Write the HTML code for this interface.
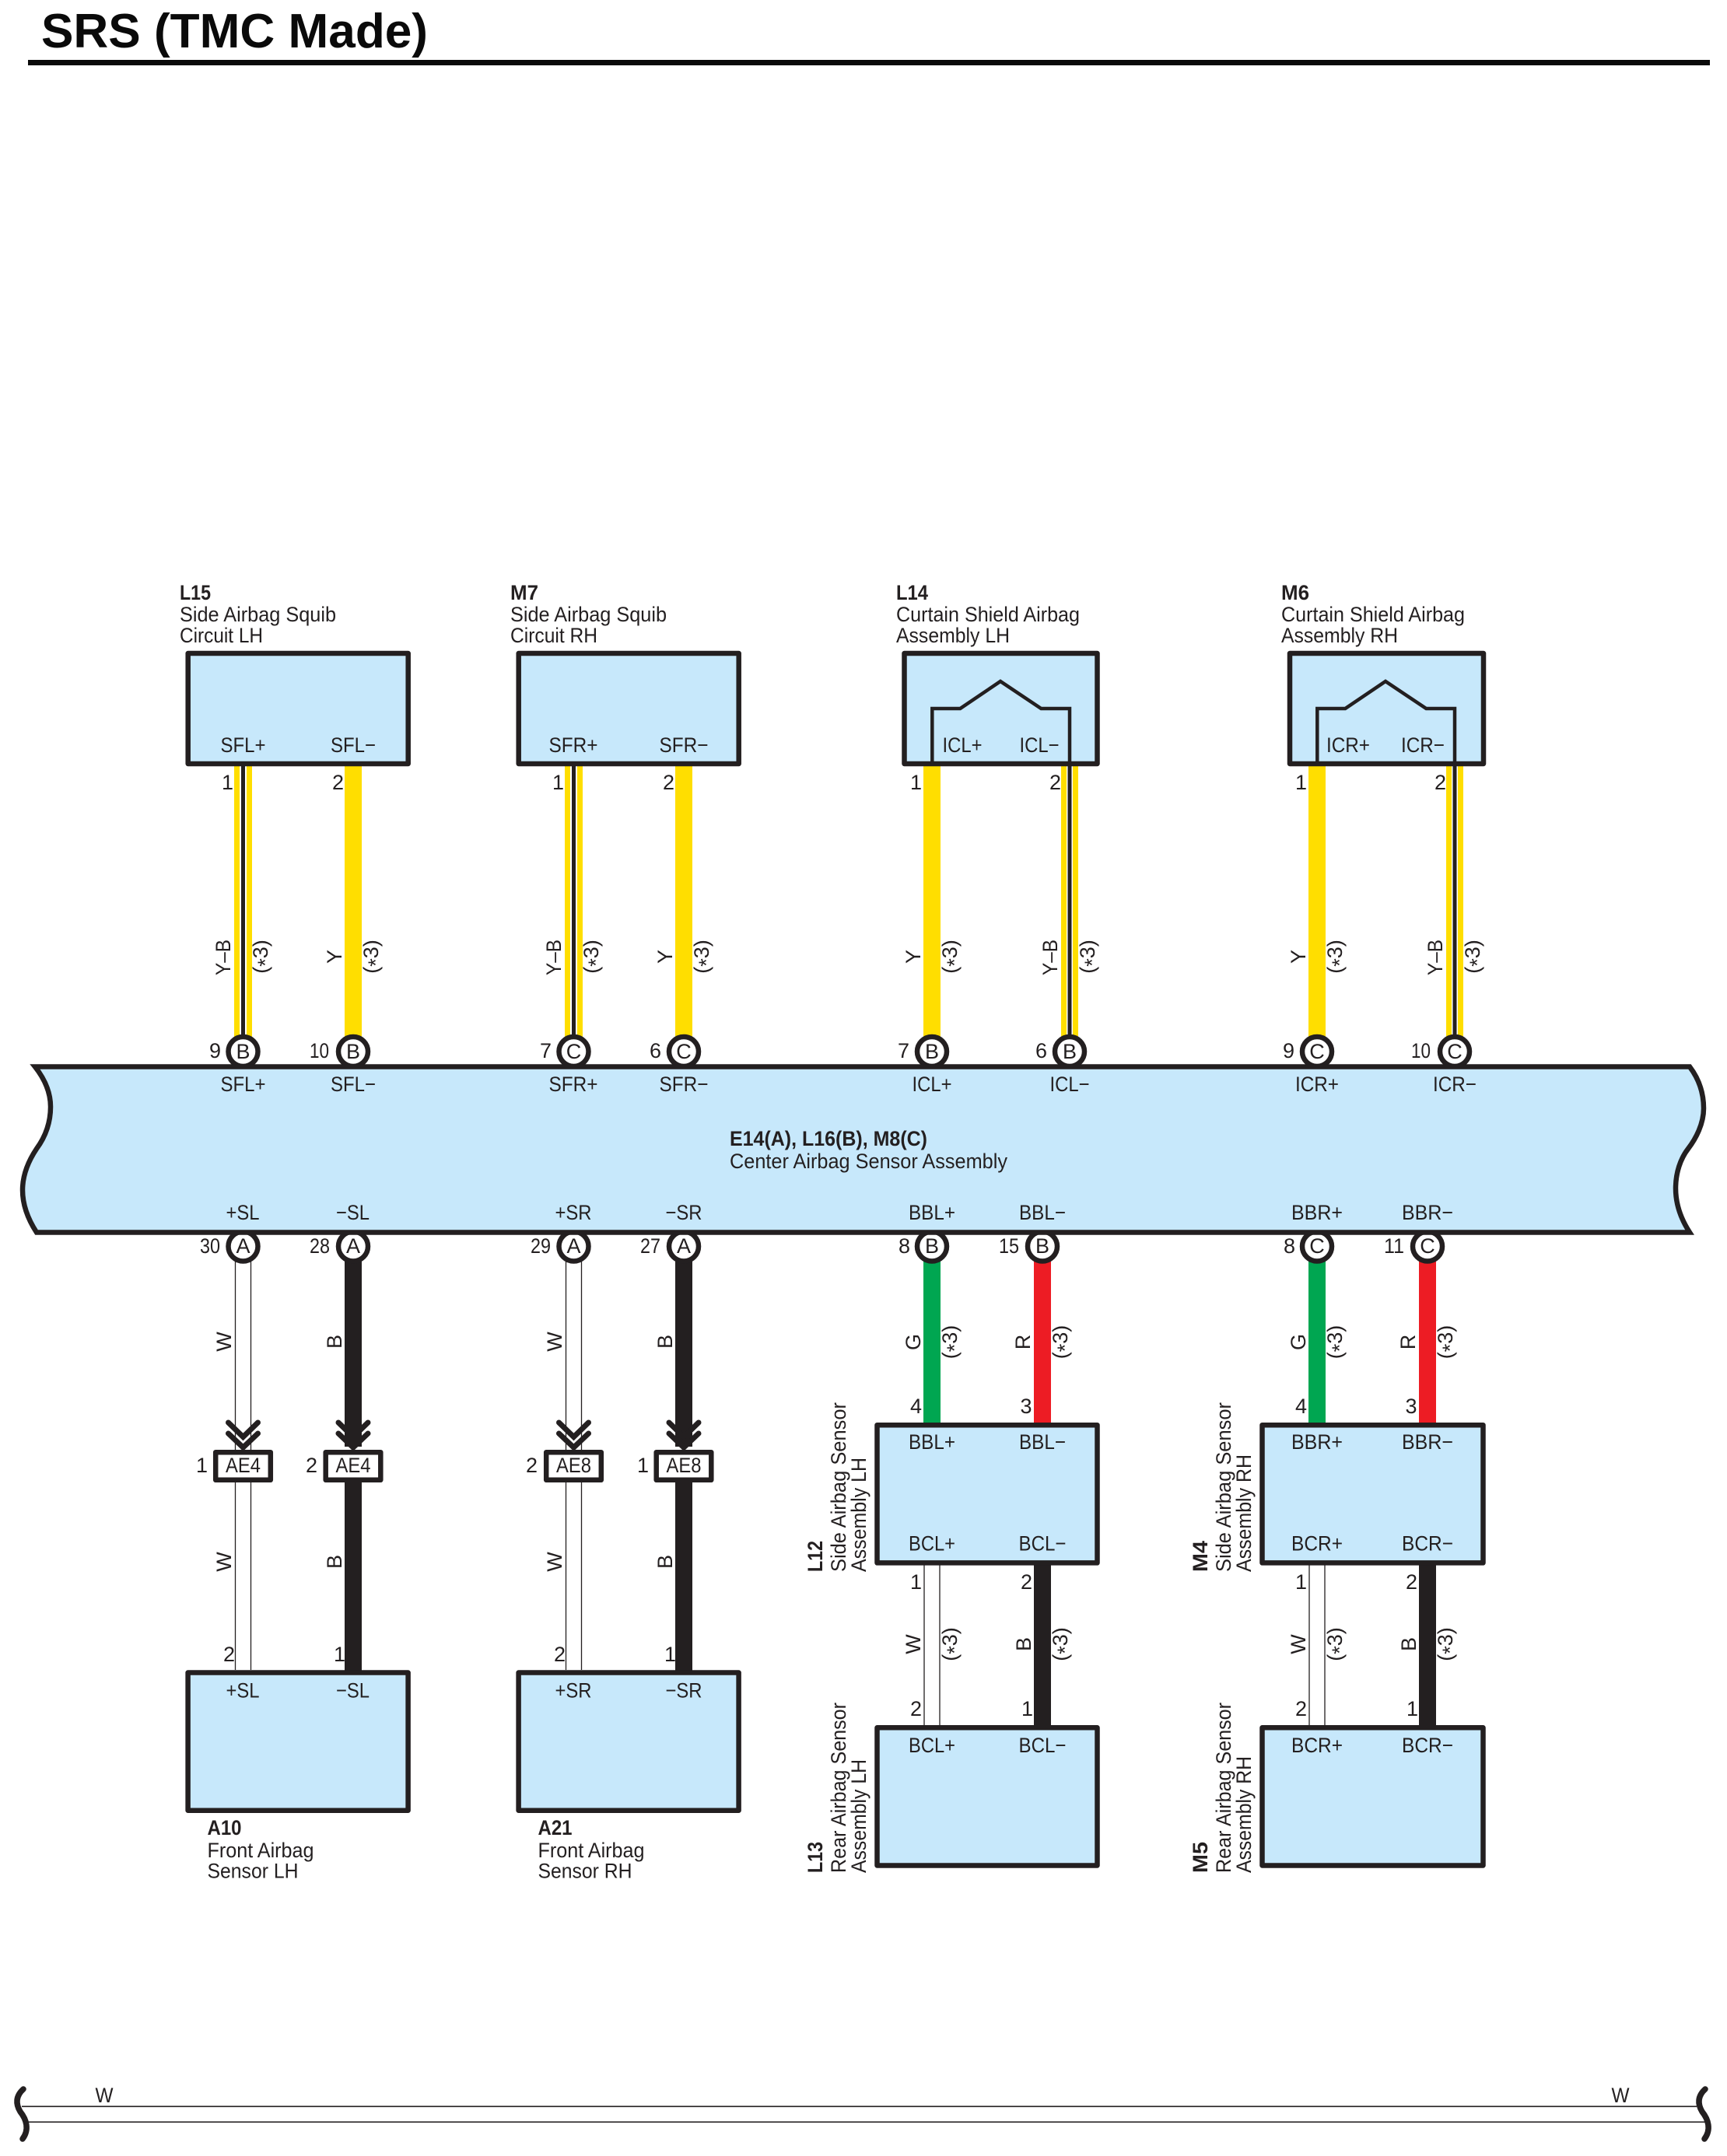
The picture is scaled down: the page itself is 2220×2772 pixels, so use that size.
<!DOCTYPE html>
<html><head><meta charset="utf-8"><title>SRS (TMC Made)</title>
<style>
html,body{margin:0;padding:0;background:#fff}
svg{display:block}
text{font-family:"Liberation Sans",Arial,sans-serif;font-size:27px;fill:#231f20}
.b{font-weight:bold}
.m{text-anchor:middle}
.e{text-anchor:end}
.y{fill:#ffde00}.k{fill:#231f20}.w{fill:#fff}.g{fill:#00a651}.r{fill:#ed1c24}
.box{fill:#c7e8fb;stroke:#231f20;stroke-width:6.5;stroke-linejoin:round}
.c{fill:#fff;stroke:#231f20;stroke-width:6.5}
.l{stroke:#231f20;stroke-width:1.3;fill:none}
.ch{fill:none;stroke:#231f20;stroke-width:7;stroke-linecap:round;stroke-linejoin:miter}
.cn{fill:#fff;stroke:#231f20;stroke-width:6.5;stroke-linejoin:round}
.sq{fill:none;stroke:#231f20;stroke-width:4.5;stroke-linejoin:miter}
</style></head><body>
<svg xmlns="http://www.w3.org/2000/svg" width="2220" height="2772" viewBox="0 0 2220 2772">
<rect width="2220" height="2772" fill="#fff"/>
<text class="b" x="53" y="61" style="font-size:62px;fill:#0a0a0a" textLength="497" lengthAdjust="spacingAndGlyphs">SRS (TMC Made)</text>
<rect x="36" y="77" width="2162" height="7" fill="#0a0a0a"/>

<!-- upper wires -->
<rect class="y" x="301" y="985" width="23" height="350"/><rect class="w" x="308" y="985" width="9" height="350"/><rect class="k" x="310" y="985" width="5" height="350"/>
<rect class="y" x="443" y="985" width="22" height="350"/>
<rect class="y" x="726" y="985" width="23" height="350"/><rect class="w" x="733" y="985" width="9" height="350"/><rect class="k" x="735" y="985" width="5" height="350"/>
<rect class="y" x="868" y="985" width="22" height="350"/>
<rect class="y" x="1187" y="985" width="22" height="350"/>
<rect class="y" x="1364" y="985" width="22" height="350"/><rect class="w" x="1371" y="985" width="8" height="350"/><rect class="k" x="1372.5" y="975" width="5" height="360"/>
<rect class="y" x="1682" y="985" width="22" height="350"/>
<rect class="y" x="1859" y="985" width="22" height="350"/><rect class="w" x="1866" y="985" width="8" height="350"/><rect class="k" x="1867.5" y="975" width="5" height="360"/>

<!-- lower wires: bus to connectors -->
<path class="l" d="M302.5 1620V1864M322.5 1620V1864M727.5 1620V1864M747.5 1620V1864"/>
<rect class="k" x="443" y="1620" width="22" height="240"/>
<rect class="k" x="868" y="1620" width="22" height="240"/>
<path class="l" d="M302.5 1906V2147M322.5 1906V2147M727.5 1906V2147M747.5 1906V2147"/>
<rect class="k" x="443" y="1906" width="22" height="243"/>
<rect class="k" x="868" y="1906" width="22" height="243"/>
<rect class="g" x="1187" y="1620" width="22" height="212"/>
<rect class="r" x="1329" y="1620" width="22" height="212"/>
<rect class="g" x="1682" y="1620" width="22" height="212"/>
<rect class="r" x="1824" y="1620" width="22" height="212"/>
<path class="l" d="M1188 2010V2220M1208 2010V2220M1683 2010V2220M1703 2010V2220"/>
<rect class="k" x="1329" y="2010" width="22" height="210"/>
<rect class="k" x="1824" y="2010" width="22" height="210"/>

<!-- connector circles -->
<g class="c">
<circle class="c" cx="312.5" cy="1352" r="19"/><circle class="c" cx="454" cy="1352" r="19"/><circle class="c" cx="737.5" cy="1352" r="19"/><circle class="c" cx="879" cy="1352" r="19"/>
<circle class="c" cx="1198" cy="1352" r="19"/><circle class="c" cx="1375" cy="1352" r="19"/><circle class="c" cx="1693" cy="1352" r="19"/><circle class="c" cx="1870" cy="1352" r="19"/>
<circle class="c" cx="312.5" cy="1602.5" r="19"/><circle class="c" cx="454" cy="1602.5" r="19"/><circle class="c" cx="737.5" cy="1602.5" r="19"/><circle class="c" cx="879" cy="1602.5" r="19"/>
<circle class="c" cx="1198" cy="1602.5" r="19"/><circle class="c" cx="1340" cy="1602.5" r="19"/><circle class="c" cx="1693" cy="1602.5" r="19"/><circle class="c" cx="1835" cy="1602.5" r="19"/>
</g>

<!-- center bus -->
<path class="box" style="stroke-linejoin:miter" d="M45 1371.5H2172C2186 1390 2190 1408 2190 1425C2190 1445 2180 1464 2170 1477C2160 1490 2154 1508 2154 1528C2154 1548 2160 1566 2172 1584.5H47C35 1566 29 1548 29 1530C29 1510 37 1492 47 1477C58 1462 65 1445 65 1423C65 1405 58 1388 45 1371.5Z"/>

<!-- top boxes -->
<rect class="box" x="241.7" y="840" width="283" height="142"/>
<rect class="box" x="666.7" y="840" width="283" height="142"/>
<rect class="box" x="1162.5" y="840" width="248" height="142"/>
<rect class="box" x="1658" y="840" width="249" height="142"/>
<path class="sq" d="M1198.3 982V911H1234.3L1286 876L1338.3 911H1375V982"/>
<path class="sq" d="M1693.3 982V911H1729.3L1781 876L1833.3 911H1870V982"/>

<!-- middle/lower boxes -->
<rect class="box" x="1127.5" y="1832.2" width="283" height="177.2"/>
<rect class="box" x="1622.5" y="1832.2" width="284" height="177.2"/>
<rect class="box" x="1127.5" y="2221.3" width="283" height="177.2"/>
<rect class="box" x="1622.5" y="2221.3" width="284" height="177.2"/>
<rect class="box" x="241.6" y="2150.5" width="283" height="177.2"/>
<rect class="box" x="666.6" y="2150.5" width="283" height="177.2"/>

<!-- chevrons + AE connectors -->
<path class="ch" d="M293.5 1829L312.5 1847.5L331.5 1829M293.5 1843L312.5 1861L331.5 1843"/>
<path class="ch" d="M435 1829L454 1847.5L473 1829M435 1843L454 1861L473 1843"/>
<path class="ch" d="M718.5 1829L737.5 1847.5L756.5 1829M718.5 1843L737.5 1861L756.5 1843"/>
<path class="ch" d="M860 1829L879 1847.5L898 1829M860 1843L879 1861L898 1843"/>
<rect class="cn" x="277.2" y="1867.2" width="70.6" height="35.6"/>
<rect class="cn" x="418.7" y="1867.2" width="70.6" height="35.6"/>
<rect class="cn" x="702.2" y="1867.2" width="70.6" height="35.6"/>
<rect class="cn" x="843.7" y="1867.2" width="70.6" height="35.6"/>
<text class="m" x="312.5" y="1893" textLength="45" lengthAdjust="spacingAndGlyphs">AE4</text>
<text class="m" x="454" y="1893" textLength="45" lengthAdjust="spacingAndGlyphs">AE4</text>
<text class="m" x="737.5" y="1893" textLength="45" lengthAdjust="spacingAndGlyphs">AE8</text>
<text class="m" x="879" y="1893" textLength="45" lengthAdjust="spacingAndGlyphs">AE8</text>
<text class="e" x="267" y="1893">1</text><text class="e" x="408" y="1893">2</text><text class="e" x="691" y="1893">2</text><text class="e" x="834" y="1893">1</text>

<!-- header labels top -->
<text class="b" x="231" y="771" textLength="40" lengthAdjust="spacingAndGlyphs">L15</text>
<text x="231" y="799" textLength="201" lengthAdjust="spacingAndGlyphs">Side Airbag Squib</text>
<text x="231" y="826" textLength="107" lengthAdjust="spacingAndGlyphs">Circuit LH</text>
<text class="b" x="656" y="771" textLength="36" lengthAdjust="spacingAndGlyphs">M7</text>
<text x="656" y="799" textLength="201" lengthAdjust="spacingAndGlyphs">Side Airbag Squib</text>
<text x="656" y="826" textLength="112" lengthAdjust="spacingAndGlyphs">Circuit RH</text>
<text class="b" x="1152" y="771" textLength="41" lengthAdjust="spacingAndGlyphs">L14</text>
<text x="1152" y="799" textLength="236" lengthAdjust="spacingAndGlyphs">Curtain Shield Airbag</text>
<text x="1152" y="826" textLength="146" lengthAdjust="spacingAndGlyphs">Assembly LH</text>
<text class="b" x="1647" y="771" textLength="36" lengthAdjust="spacingAndGlyphs">M6</text>
<text x="1647" y="799" textLength="236" lengthAdjust="spacingAndGlyphs">Curtain Shield Airbag</text>
<text x="1647" y="826" textLength="150" lengthAdjust="spacingAndGlyphs">Assembly RH</text>

<!-- top box pin labels -->
<text class="m" x="312.5" y="967" textLength="58" lengthAdjust="spacingAndGlyphs">SFL+</text>
<text class="m" x="454" y="967" textLength="58" lengthAdjust="spacingAndGlyphs">SFL−</text>
<text class="m" x="737" y="967" textLength="63" lengthAdjust="spacingAndGlyphs">SFR+</text>
<text class="m" x="879" y="967" textLength="63" lengthAdjust="spacingAndGlyphs">SFR−</text>
<text class="m" x="1237" y="967" textLength="51" lengthAdjust="spacingAndGlyphs">ICL+</text>
<text class="m" x="1336" y="967" textLength="51" lengthAdjust="spacingAndGlyphs">ICL−</text>
<text class="m" x="1733" y="967" textLength="56" lengthAdjust="spacingAndGlyphs">ICR+</text>
<text class="m" x="1829" y="967" textLength="56" lengthAdjust="spacingAndGlyphs">ICR−</text>

<!-- pin numbers top -->
<text class="e" x="300" y="1015">1</text><text class="e" x="442" y="1015">2</text>
<text class="e" x="725" y="1015">1</text><text class="e" x="867" y="1015">2</text>
<text class="e" x="1185" y="1015">1</text><text class="e" x="1364" y="1015">2</text>
<text class="e" x="1680" y="1015">1</text><text class="e" x="1859" y="1015">2</text>

<!-- wire colour labels top -->
<text class="m" x="296" y="1231" transform="rotate(-90 296 1231)" textLength="46" lengthAdjust="spacingAndGlyphs">Y–B</text>
<text class="m" x="439" y="1230" transform="rotate(-90 439 1230)">Y</text>
<text class="m" x="721" y="1231" transform="rotate(-90 721 1231)" textLength="46" lengthAdjust="spacingAndGlyphs">Y–B</text>
<text class="m" x="864" y="1230" transform="rotate(-90 864 1230)">Y</text>
<text class="m" x="1183" y="1230" transform="rotate(-90 1183 1230)">Y</text>
<text class="m" x="1359" y="1231" transform="rotate(-90 1359 1231)" textLength="46" lengthAdjust="spacingAndGlyphs">Y–B</text>
<text class="m" x="1678" y="1230" transform="rotate(-90 1678 1230)">Y</text>
<text class="m" x="1854" y="1231" transform="rotate(-90 1854 1231)" textLength="46" lengthAdjust="spacingAndGlyphs">Y–B</text>
<text class="m" x="344" y="1230" transform="rotate(-90 344 1230)">(<tspan dy="6">*</tspan><tspan dy="-6">3)</tspan></text>
<text class="m" x="486" y="1230" transform="rotate(-90 486 1230)">(<tspan dy="6">*</tspan><tspan dy="-6">3)</tspan></text>
<text class="m" x="769" y="1230" transform="rotate(-90 769 1230)">(<tspan dy="6">*</tspan><tspan dy="-6">3)</tspan></text>
<text class="m" x="911" y="1230" transform="rotate(-90 911 1230)">(<tspan dy="6">*</tspan><tspan dy="-6">3)</tspan></text>
<text class="m" x="1230" y="1230" transform="rotate(-90 1230 1230)">(<tspan dy="6">*</tspan><tspan dy="-6">3)</tspan></text>
<text class="m" x="1407" y="1230" transform="rotate(-90 1407 1230)">(<tspan dy="6">*</tspan><tspan dy="-6">3)</tspan></text>
<text class="m" x="1725" y="1230" transform="rotate(-90 1725 1230)">(<tspan dy="6">*</tspan><tspan dy="-6">3)</tspan></text>
<text class="m" x="1902" y="1230" transform="rotate(-90 1902 1230)">(<tspan dy="6">*</tspan><tspan dy="-6">3)</tspan></text>

<!-- circle letters + numbers top -->
<text class="m" x="312.5" y="1361">B</text><text class="m" x="454" y="1361">B</text><text class="m" x="737.5" y="1361">C</text><text class="m" x="879" y="1361">C</text>
<text class="m" x="1198" y="1361">B</text><text class="m" x="1375" y="1361">B</text><text class="m" x="1693" y="1361">C</text><text class="m" x="1870" y="1361">C</text>
<text class="e" x="284" y="1360">9</text><text class="e" x="423" y="1360" textLength="25" lengthAdjust="spacingAndGlyphs">10</text>
<text class="e" x="709" y="1360">7</text><text class="e" x="850" y="1360">6</text>
<text class="e" x="1169" y="1360">7</text><text class="e" x="1346" y="1360">6</text>
<text class="e" x="1664" y="1360">9</text><text class="e" x="1839" y="1360" textLength="25" lengthAdjust="spacingAndGlyphs">10</text>

<!-- bus labels -->
<text class="m" x="312.5" y="1403" textLength="58" lengthAdjust="spacingAndGlyphs">SFL+</text>
<text class="m" x="454" y="1403" textLength="58" lengthAdjust="spacingAndGlyphs">SFL−</text>
<text class="m" x="737" y="1403" textLength="63" lengthAdjust="spacingAndGlyphs">SFR+</text>
<text class="m" x="879" y="1403" textLength="63" lengthAdjust="spacingAndGlyphs">SFR−</text>
<text class="m" x="1198" y="1403" textLength="51" lengthAdjust="spacingAndGlyphs">ICL+</text>
<text class="m" x="1375" y="1403" textLength="51" lengthAdjust="spacingAndGlyphs">ICL−</text>
<text class="m" x="1693" y="1403" textLength="56" lengthAdjust="spacingAndGlyphs">ICR+</text>
<text class="m" x="1870" y="1403" textLength="56" lengthAdjust="spacingAndGlyphs">ICR−</text>
<text class="b" x="938" y="1473" textLength="254" lengthAdjust="spacingAndGlyphs">E14(A), L16(B), M8(C)</text>
<text x="938" y="1502" textLength="357" lengthAdjust="spacingAndGlyphs">Center Airbag Sensor Assembly</text>
<text class="m" x="312" y="1568" textLength="43" lengthAdjust="spacingAndGlyphs">+SL</text>
<text class="m" x="453.5" y="1568" textLength="43" lengthAdjust="spacingAndGlyphs">−SL</text>
<text class="m" x="737" y="1568" textLength="47" lengthAdjust="spacingAndGlyphs">+SR</text>
<text class="m" x="879" y="1568" textLength="47" lengthAdjust="spacingAndGlyphs">−SR</text>
<text class="m" x="1198" y="1568" textLength="60" lengthAdjust="spacingAndGlyphs">BBL+</text>
<text class="m" x="1340" y="1568" textLength="60" lengthAdjust="spacingAndGlyphs">BBL−</text>
<text class="m" x="1693" y="1568" textLength="66" lengthAdjust="spacingAndGlyphs">BBR+</text>
<text class="m" x="1835" y="1568" textLength="66" lengthAdjust="spacingAndGlyphs">BBR−</text>

<!-- circle letters + numbers bottom -->
<text class="m" x="312.5" y="1611">A</text><text class="m" x="454" y="1611">A</text><text class="m" x="737.5" y="1611">A</text><text class="m" x="879" y="1611">A</text>
<text class="m" x="1198" y="1611">B</text><text class="m" x="1340" y="1611">B</text><text class="m" x="1693" y="1611">C</text><text class="m" x="1835" y="1611">C</text>
<text class="e" x="283" y="1611" textLength="26" lengthAdjust="spacingAndGlyphs">30</text><text class="e" x="424" y="1611" textLength="26" lengthAdjust="spacingAndGlyphs">28</text>
<text class="e" x="708" y="1611" textLength="26" lengthAdjust="spacingAndGlyphs">29</text><text class="e" x="849" y="1611" textLength="26" lengthAdjust="spacingAndGlyphs">27</text>
<text class="e" x="1170" y="1611">8</text><text class="e" x="1310" y="1611" textLength="26" lengthAdjust="spacingAndGlyphs">15</text>
<text class="e" x="1665" y="1611">8</text><text class="e" x="1805" y="1611" textLength="26" lengthAdjust="spacingAndGlyphs">11</text>

<!-- lower wire labels: first run -->
<text class="m" x="297" y="1725" transform="rotate(-90 297 1725)">W</text>
<text class="m" x="439" y="1725" transform="rotate(-90 439 1725)">B</text>
<text class="m" x="722" y="1725" transform="rotate(-90 722 1725)">W</text>
<text class="m" x="864" y="1725" transform="rotate(-90 864 1725)">B</text>
<text class="m" x="1183" y="1725.5" transform="rotate(-90 1183 1725.5)">G</text>
<text class="m" x="1324" y="1725.5" transform="rotate(-90 1324 1725.5)">R</text>
<text class="m" x="1678" y="1725.5" transform="rotate(-90 1678 1725.5)">G</text>
<text class="m" x="1819" y="1725.5" transform="rotate(-90 1819 1725.5)">R</text>
<text class="m" x="1230" y="1725.5" transform="rotate(-90 1230 1725.5)">(<tspan dy="6">*</tspan><tspan dy="-6">3)</tspan></text>
<text class="m" x="1372" y="1725.5" transform="rotate(-90 1372 1725.5)">(<tspan dy="6">*</tspan><tspan dy="-6">3)</tspan></text>
<text class="m" x="1725" y="1725.5" transform="rotate(-90 1725 1725.5)">(<tspan dy="6">*</tspan><tspan dy="-6">3)</tspan></text>
<text class="m" x="1867" y="1725.5" transform="rotate(-90 1867 1725.5)">(<tspan dy="6">*</tspan><tspan dy="-6">3)</tspan></text>
<text class="e" x="1185" y="1817">4</text><text class="e" x="1326.5" y="1817">3</text>
<text class="e" x="1680" y="1817">4</text><text class="e" x="1821.5" y="1817">3</text>

<!-- L12 / M4 pin labels -->
<text class="m" x="1198" y="1863" textLength="60" lengthAdjust="spacingAndGlyphs">BBL+</text>
<text class="m" x="1340" y="1863" textLength="60" lengthAdjust="spacingAndGlyphs">BBL−</text>
<text class="m" x="1198" y="1993.5" textLength="60" lengthAdjust="spacingAndGlyphs">BCL+</text>
<text class="m" x="1340" y="1993.5" textLength="61" lengthAdjust="spacingAndGlyphs">BCL−</text>
<text class="m" x="1693" y="1863" textLength="66" lengthAdjust="spacingAndGlyphs">BBR+</text>
<text class="m" x="1835" y="1863" textLength="66" lengthAdjust="spacingAndGlyphs">BBR−</text>
<text class="m" x="1693" y="1993.5" textLength="66" lengthAdjust="spacingAndGlyphs">BCR+</text>
<text class="m" x="1835" y="1993.5" textLength="66" lengthAdjust="spacingAndGlyphs">BCR−</text>
<text class="m" x="1198" y="2253" textLength="60" lengthAdjust="spacingAndGlyphs">BCL+</text>
<text class="m" x="1340" y="2253" textLength="61" lengthAdjust="spacingAndGlyphs">BCL−</text>
<text class="m" x="1693" y="2253" textLength="66" lengthAdjust="spacingAndGlyphs">BCR+</text>
<text class="m" x="1835" y="2253" textLength="66" lengthAdjust="spacingAndGlyphs">BCR−</text>
<text class="m" x="312" y="2182.5" textLength="43" lengthAdjust="spacingAndGlyphs">+SL</text>
<text class="m" x="453.5" y="2182.5" textLength="43" lengthAdjust="spacingAndGlyphs">−SL</text>
<text class="m" x="737" y="2182.5" textLength="47" lengthAdjust="spacingAndGlyphs">+SR</text>
<text class="m" x="879" y="2182.5" textLength="47" lengthAdjust="spacingAndGlyphs">−SR</text>

<!-- second-run wire labels -->
<text class="m" x="297" y="2008" transform="rotate(-90 297 2008)">W</text>
<text class="m" x="439" y="2008" transform="rotate(-90 439 2008)">B</text>
<text class="m" x="722" y="2008" transform="rotate(-90 722 2008)">W</text>
<text class="m" x="864" y="2008" transform="rotate(-90 864 2008)">B</text>
<text class="e" x="302" y="2136">2</text><text class="e" x="444" y="2136">1</text>
<text class="e" x="727" y="2136">2</text><text class="e" x="869" y="2136">1</text>

<text class="m" x="1183" y="2114" transform="rotate(-90 1183 2114)">W</text>
<text class="m" x="1325" y="2114" transform="rotate(-90 1325 2114)">B</text>
<text class="m" x="1678" y="2114" transform="rotate(-90 1678 2114)">W</text>
<text class="m" x="1820" y="2114" transform="rotate(-90 1820 2114)">B</text>
<text class="m" x="1230" y="2114" transform="rotate(-90 1230 2114)">(<tspan dy="6">*</tspan><tspan dy="-6">3)</tspan></text>
<text class="m" x="1372" y="2114" transform="rotate(-90 1372 2114)">(<tspan dy="6">*</tspan><tspan dy="-6">3)</tspan></text>
<text class="m" x="1725" y="2114" transform="rotate(-90 1725 2114)">(<tspan dy="6">*</tspan><tspan dy="-6">3)</tspan></text>
<text class="m" x="1867" y="2114" transform="rotate(-90 1867 2114)">(<tspan dy="6">*</tspan><tspan dy="-6">3)</tspan></text>
<text class="e" x="1185" y="2043">1</text><text class="e" x="1327" y="2043">2</text>
<text class="e" x="1680" y="2043">1</text><text class="e" x="1822" y="2043">2</text>
<text class="e" x="1185" y="2206">2</text><text class="e" x="1328" y="2206">1</text>
<text class="e" x="1680" y="2206">2</text><text class="e" x="1823" y="2206">1</text>

<!-- rotated names -->
<text class="b" x="1057" y="2021" transform="rotate(-90 1057 2021)" textLength="40" lengthAdjust="spacingAndGlyphs">L12</text>
<text x="1087" y="2021" transform="rotate(-90 1087 2021)" textLength="218" lengthAdjust="spacingAndGlyphs">Side Airbag Sensor</text>
<text x="1113" y="2021" transform="rotate(-90 1113 2021)" textLength="147" lengthAdjust="spacingAndGlyphs">Assembly LH</text>
<text class="b" x="1057" y="2408" transform="rotate(-90 1057 2408)" textLength="40" lengthAdjust="spacingAndGlyphs">L13</text>
<text x="1087" y="2408" transform="rotate(-90 1087 2408)" textLength="219" lengthAdjust="spacingAndGlyphs">Rear Airbag Sensor</text>
<text x="1113" y="2408" transform="rotate(-90 1113 2408)" textLength="146" lengthAdjust="spacingAndGlyphs">Assembly LH</text>
<text class="b" x="1552" y="2021" transform="rotate(-90 1552 2021)" textLength="40" lengthAdjust="spacingAndGlyphs">M4</text>
<text x="1582" y="2021" transform="rotate(-90 1582 2021)" textLength="218" lengthAdjust="spacingAndGlyphs">Side Airbag Sensor</text>
<text x="1608" y="2021" transform="rotate(-90 1608 2021)" textLength="151" lengthAdjust="spacingAndGlyphs">Assembly RH</text>
<text class="b" x="1552" y="2408" transform="rotate(-90 1552 2408)" textLength="40" lengthAdjust="spacingAndGlyphs">M5</text>
<text x="1582" y="2408" transform="rotate(-90 1582 2408)" textLength="219" lengthAdjust="spacingAndGlyphs">Rear Airbag Sensor</text>
<text x="1608" y="2408" transform="rotate(-90 1608 2408)" textLength="150" lengthAdjust="spacingAndGlyphs">Assembly RH</text>

<!-- A10 / A21 captions -->
<text class="b" x="266.5" y="2359" textLength="44" lengthAdjust="spacingAndGlyphs">A10</text>
<text x="266.5" y="2388" textLength="137" lengthAdjust="spacingAndGlyphs">Front Airbag</text>
<text x="266.5" y="2414.5" textLength="117" lengthAdjust="spacingAndGlyphs">Sensor LH</text>
<text class="b" x="691.5" y="2359" textLength="44" lengthAdjust="spacingAndGlyphs">A21</text>
<text x="691.5" y="2388" textLength="137" lengthAdjust="spacingAndGlyphs">Front Airbag</text>
<text x="691.5" y="2414.5" textLength="121" lengthAdjust="spacingAndGlyphs">Sensor RH</text>

<!-- bottom run -->
<path class="l" style="stroke-width:1.6" d="M28 2708.3H2181M36 2728.3H2195"/>
<path d="M30 2686C20 2695 20 2705 26 2715C34 2725 38 2738 29 2750" fill="none" stroke="#231f20" stroke-width="7.5" stroke-linecap="round"/>
<path d="M2192 2686C2182 2695 2182 2705 2188 2715C2196 2725 2200 2738 2191 2750" fill="none" stroke="#231f20" stroke-width="7.5" stroke-linecap="round"/>
<text class="m" x="134" y="2703" textLength="23" lengthAdjust="spacingAndGlyphs">W</text>
<text class="m" x="2083" y="2703" textLength="23" lengthAdjust="spacingAndGlyphs">W</text>
</svg>
</body></html>
